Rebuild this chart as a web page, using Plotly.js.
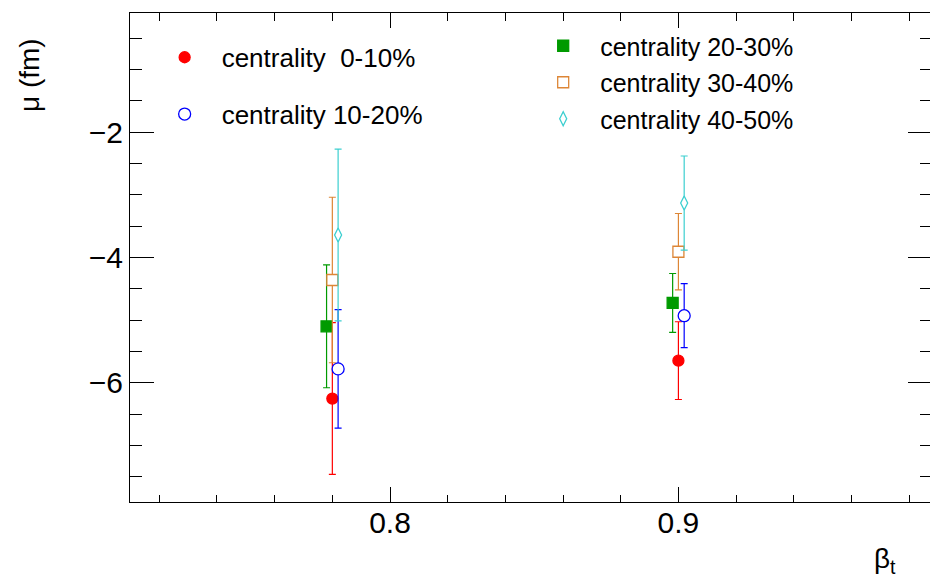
<!DOCTYPE html>
<html>
<head>
<meta charset="utf-8">
<script src="https://cdn.plot.ly/plotly-3.0.1.min.js"></script>
<style>
html, body { margin: 0; padding: 0; overflow: hidden; background: #fff; }
#plot { width: 940px; height: 580px; }
</style>
</head>
<body>
<div id="plot"></div>
<script>
// ---- data ----
const labels = ["centrality\u00a0 0-10%", "centrality 10-20%", "centrality 20-30%", "centrality 30-40%", "centrality 40-50%"];

const beta_0_10  = [0.780, 0.900];
const mu_0_10    = [-6.25, -5.645];
const err_0_10   = [1.21, 0.62];

const beta_10_20 = [0.782, 0.902];
const mu_10_20   = [-5.777, -4.928];
const err_10_20  = [0.945, 0.51];

const beta_20_30 = [0.778, 0.898];
const mu_20_30   = [-5.098, -4.725];
const err_20_30  = [0.98, 0.47];

const beta_30_40 = [0.780, 0.900];
const mu_30_40   = [-4.359, -3.908];
const err_30_40  = [1.32, 0.61];

const beta_40_50 = [0.782, 0.902];
const mu_40_50   = [-3.64, -3.131];
const err_40_50  = [1.37, 0.75];

const xTitle = "β<sub>t</sub>";
const yTitle = "μ (fm)";

// ---- styling ----
const FONT = "Liberation Sans, Arial, Helvetica, sans-serif";
const RED = "#ff0000", BLUE = "#0000ff", GREEN = "#009a00", ORANGE = "#dd8636", CYAN = "#3ccfd0";

function series(x, y, e, name, color, symbol, size, fill, leg, grp) {
  return {
    type: "scatter", mode: "markers", x: x, y: y, name: name,
    legend: leg, legendgroup: grp,
    error_y: { type: "data", array: e, visible: true, color: color, thickness: 1.2, width: 3.5 },
    marker: { symbol: symbol, size: size, color: fill, line: { color: color, width: 1.3 } },
    cliponaxis: false
  };
}

const traces = [
  series(beta_0_10,  mu_0_10,  err_0_10,  labels[0], RED,    "circle",      11, RED,     "legend",  "g1"),
  series(beta_10_20, mu_10_20, err_10_20, labels[1], BLUE,   "circle",      12, "#ffffff", "legend", "g2"),
  series(beta_20_30, mu_20_30, err_20_30, labels[2], GREEN,  "square",      11, GREEN,   "legend2", "g3"),
  series(beta_30_40, mu_30_40, err_30_40, labels[3], ORANGE, "square",      11, "#ffffff", "legend2", "g4"),
  series(beta_40_50, mu_40_50, err_40_50, labels[4], CYAN,   "diamond-tall", 10, "#ffffff", "legend2", "g5")
];

const legendBase = {
  xanchor: "left", yanchor: "top", bgcolor: "rgba(0,0,0,0)", borderwidth: 0,
  font: { family: FONT, size: 25, color: "#000" }, itemwidth: 64, traceorder: "grouped"
};

const layout = {
  width: 940, height: 580,
  margin: { l: 130, r: 8, t: 13, b: 78, pad: 0 },
  paper_bgcolor: "#fff", plot_bgcolor: "#fff",
  font: { family: FONT, size: 30, color: "#000" },
  showlegend: true,
  legend: Object.assign({}, legendBase, { x: 0.022, y: 0.9574, tracegroupgap: 20,
    font: { family: FONT, size: 26, color: "#000" } }),
  legend2: Object.assign({}, legendBase, { x: 0.494, y: 0.9795, tracegroupgap: 1 }),
  xaxis: {
    range: [0.70984, 0.98793], showgrid: false, zeroline: false,
    showline: true, linecolor: "#000", linewidth: 1, mirror: "ticks",
    ticks: "inside", ticklen: 15, tickcolor: "#000", tickwidth: 1,
    tick0: 0, dtick: 0.1, tickformat: ".1f", ticklabelstandoff: -6,
    tickfont: { family: FONT, size: 30, color: "#000" },
    minor: { dtick: 0.02, ticks: "inside", ticklen: 7.5, tickcolor: "#000", tickwidth: 1, showgrid: false }
  },
  yaxis: {
    range: [-7.9, -0.1], showgrid: false, zeroline: false,
    showline: true, linecolor: "#000", linewidth: 1, mirror: "ticks",
    ticks: "inside", ticklen: 24, tickcolor: "#000", tickwidth: 1,
    tick0: 0, dtick: 2,
    tickfont: { family: FONT, size: 30, color: "#000" },
    minor: { dtick: 0.5, ticks: "inside", ticklen: 12, tickcolor: "#000", tickwidth: 1, showgrid: false }
  },
  annotations: [
    { text: xTitle, xref: "paper", yref: "paper", x: (898 - 130) / 802, y: -(560 - 502) / 489,
      xanchor: "right", yanchor: "middle", showarrow: false, font: { family: FONT, size: 28, color: "#000" } },
    { text: yTitle, xref: "paper", yref: "paper", x: (30 - 130) / 802, y: (502 - 114) / 489,
      xanchor: "center", yanchor: "bottom", textangle: -90, showarrow: false, font: { family: FONT, size: 28, color: "#000" } }
  ]
};

Plotly.newPlot("plot", traces, layout, { displayModeBar: false, staticPlot: true });
</script>
</body>
</html>
